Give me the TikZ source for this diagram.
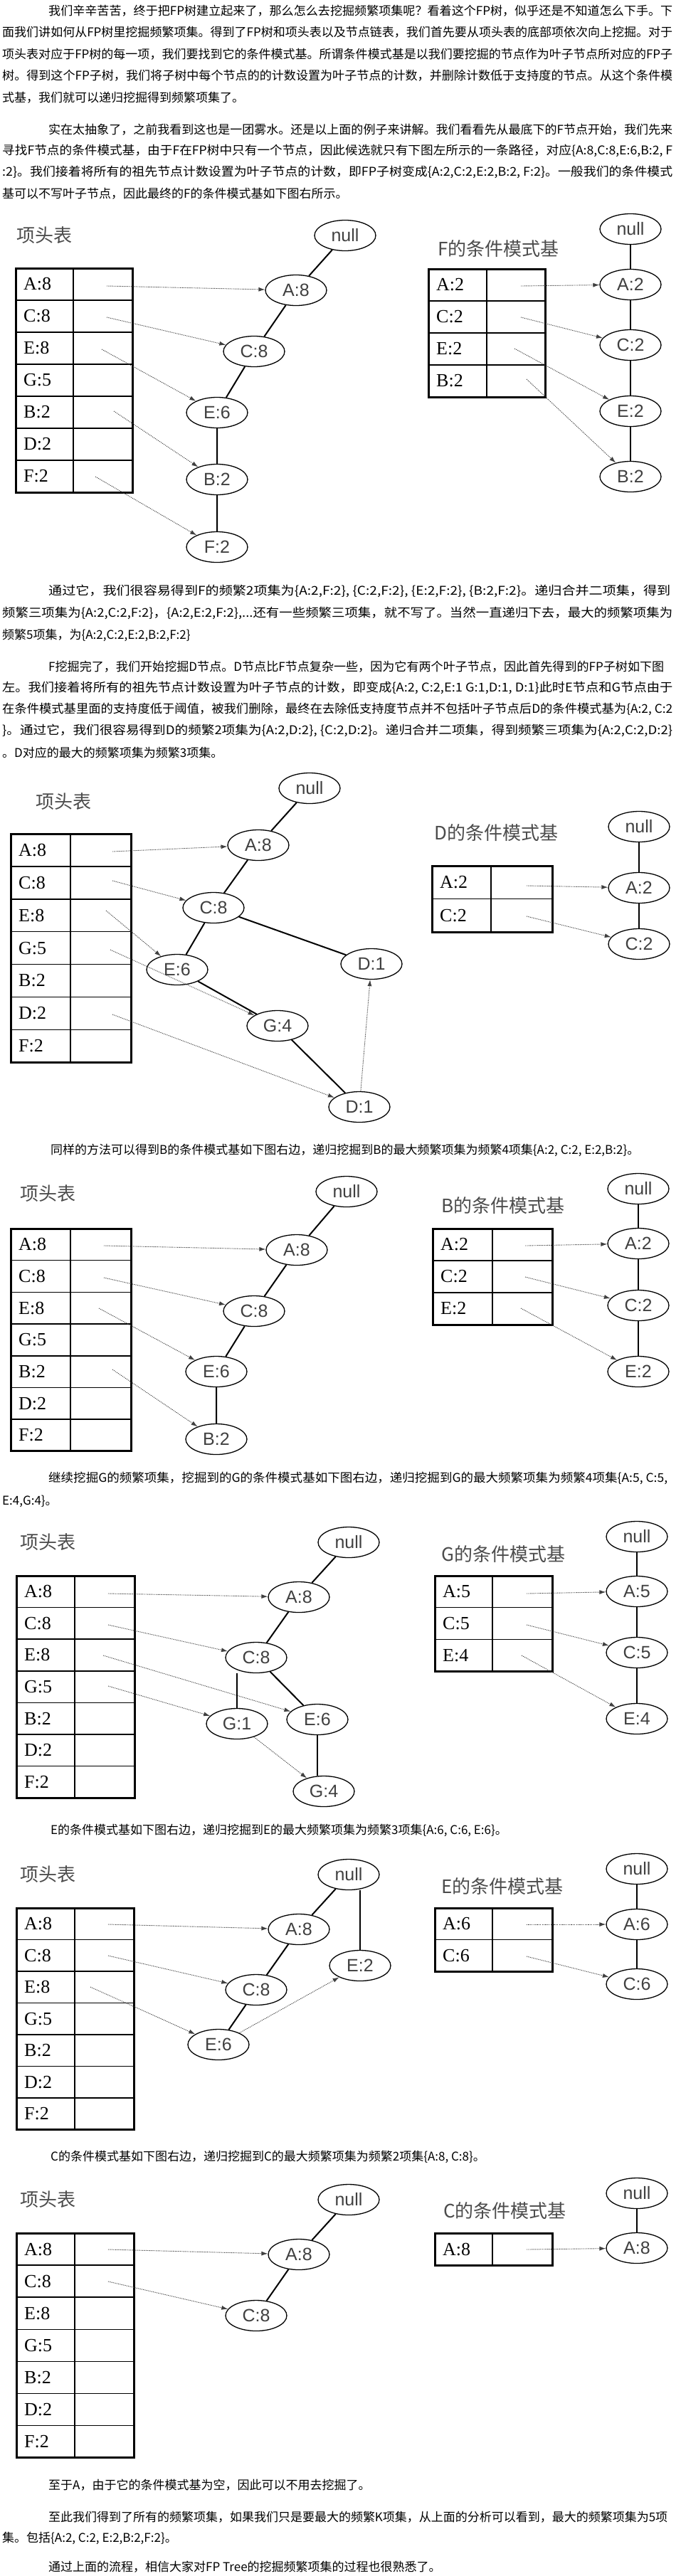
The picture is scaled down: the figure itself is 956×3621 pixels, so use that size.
\documentclass[tikz,border=0pt]{standalone}
\usepackage{graphicx}
\usepackage{fontspec}
\setmainfont{Noto Sans CJK SC}
\newfontfamily\cjkf{Noto Sans CJK SC}
\newfontfamily\arialf{Liberation Sans}
\newfontfamily\timesf{Liberation Serif}
\usetikzlibrary{shapes.geometric,arrows.meta}
\tikzset{
 body/.style={anchor=west,inner sep=0pt,font=\cjkf\fontsize{17}{21}\selectfont},
 hdr/.style={anchor=west,inner sep=0pt,text=black!70,font=\cjkf\fontsize{26}{30}\selectfont},
 rowlab/.style={anchor=west,inner sep=0pt,font=\timesf\fontsize{26}{30}\selectfont},
 tn/.style={ellipse,draw,line width=1.3pt,minimum width=86pt,minimum height=43pt,inner sep=0pt,text=black!75,font=\arialf\fontsize{25}{28}\selectfont},
 tedge/.style={line width=2pt},
 tthin/.style={line width=1.2pt},
 link/.style={line width=0.9pt,black!75,dash pattern=on 1.2pt off 1.2pt,-{Latex[length=9pt,width=6pt]}},
 tabin/.style={line width=1.5pt},
 tabout/.style={line width=3pt},
}
% prefix, x0, xdiv, x1, y0, row height, rows, labels
\newcommand\HTab[8]{%
  \foreach \lab [count=\i] in {#8} {
    \node[rowlab] (#1\i) at ({#2+11},{#5+#6*(\i-0.5)}) {\lab};
  }
  \foreach \i in {1,...,#7} {\draw[tabin] (#2,{#5+#6*\i}) -- (#4,{#5+#6*\i});}
  \draw[tabin] (#3,#5) -- (#3,{#5+#6*#7});
  \draw[tabout] (#2,#5) rectangle (#4,{#5+#6*#7});
}
\newcommand\jl[5]{\node[body] (#1) at (#2,#3) {\resizebox{#4pt}{\height}{#5}};}
\newcommand\nl[4]{\node[body] (#1) at (#2,#3) {#4};}
\begin{document}
\begin{tikzpicture}[x=1pt,y=-1pt]
\useasboundingbox[fill=white] (0,0) rectangle (956,3621);

% ---------- paragraph 1, 2
\jl{p1a}{68}{15}{877}{我们辛辛苦苦，终于把FP树建立起来了，那么怎么去挖掘频繁项集呢？看着这个FP树，似乎还是不知道怎么下手。下}
\jl{p1b}{3}{45.5}{942}{面我们讲如何从FP树里挖掘频繁项集。得到了FP树和项头表以及节点链表，我们首先要从项头表的底部项依次向上挖掘。对于}
\jl{p1c}{3}{76}{942}{项头表对应于FP树的每一项，我们要找到它的条件模式基。所谓条件模式基是以我们要挖掘的节点作为叶子节点所对应的FP子}
\jl{p1d}{3}{106.5}{942}{树。得到这个FP子树，我们将子树中每个节点的的计数设置为叶子节点的计数，并删除计数低于支持度的节点。从这个条件模}
\nl{p1e}{3}{137}{式基，我们就可以递归挖掘得到频繁项集了。}
\jl{p2a}{68}{182}{877}{实在太抽象了，之前我看到这也是一团雾水。还是以上面的例子来讲解。我们看看先从最底下的F节点开始，我们先来}
\jl{p2b}{3}{212}{942}{寻找F节点的条件模式基，由于F在FP树中只有一个节点，因此候选就只有下图左所示的一条路径，对应\{A:8,C:8,E:6,B:2, F}
\jl{p2c}{3}{242}{942}{:2\}。我们接着将所有的祖先节点计数设置为叶子节点的计数，即FP子树变成\{A:2,C:2,E:2,B:2, F:2\}。一般我们的条件模式}
\nl{p2d}{3}{272}{基可以不写叶子节点，因此最终的F的条件模式基如下图右所示。}

% ---------- diagram 1
\node[hdr] (d1h) at (23,331) {项头表};
\HTab{d1L}{22}{103}{186}{377}{45}{7}{A:8,C:8,E:8,G:5,B:2,D:2,F:2}
\node[tn] (d1n) at (485,331) {null};
\node[tn] (d1a) at (416,408) {A:8};
\node[tn] (d1c) at (357,494) {C:8};
\node[tn] (d1e) at (305,580) {E:6};
\node[tn] (d1b) at (305,674) {B:2};
\node[tn] (d1f) at (305,769) {F:2};
\draw[tedge] (d1n)--(d1a) (d1a)--(d1c) (d1c)--(d1e) (d1e)--(d1b) (d1b)--(d1f);
\coordinate (d1s1) at (150,402);
\coordinate (d1s2) at (150,446);
\coordinate (d1s3) at (143,491);
\coordinate (d1s5) at (160,578);
\coordinate (d1s7) at (134,670);
\draw[link] (d1s1)--(d1a);
\draw[link] (d1s2)--(d1c);
\draw[link] (d1s3)--(d1e);
\draw[link] (d1s5)--(d1b);
\draw[link] (d1s7)--(d1f);
\node[hdr] (d1rh) at (615,350) {F的条件模式基};
\HTab{d1R}{602}{684}{766}{378}{45}{4}{A:2,C:2,E:2,B:2}
\node[tn] (d1rn) at (886,322) {null};
\node[tn] (d1ra) at (886,400) {A:2};
\node[tn] (d1rc) at (886,485) {C:2};
\node[tn] (d1re) at (886,578) {E:2};
\node[tn] (d1rb) at (886,670) {B:2};
\draw[tedge] (d1rn)--(d1ra) (d1ra)--(d1rc) (d1rc)--(d1re) (d1re)--(d1rb);
\coordinate (d1r1) at (732,402);
\coordinate (d1r2) at (732,446);
\coordinate (d1r3) at (723,490);
\coordinate (d1r4) at (740,533);
\draw[link] (d1r1)--(d1ra);
\draw[link] (d1r2)--(d1rc);
\draw[link] (d1r3)--(d1re);
\draw[link] (d1r4)--(d1rb);

% ---------- paragraph 3, 4
\jl{p3a}{68}{831}{874}{通过它，我们很容易得到F的频繁2项集为\{A:2,F:2\}, \{C:2,F:2\}, \{E:2,F:2\}, \{B:2,F:2\}。递归合并二项集，得到}
\jl{p3b}{3}{862}{942}{频繁三项集为\{A:2,C:2,F:2\}，\{A:2,E:2,F:2\},...还有一些频繁三项集，就不写了。当然一直递归下去，最大的频繁项集为}
\nl{p3c}{3}{893}{频繁5项集，为\{A:2,C:2,E:2,B:2,F:2\}}
\jl{p4a}{68}{937}{865}{F挖掘完了，我们开始挖掘D节点。D节点比F节点复杂一些，因为它有两个叶子节点，因此首先得到的FP子树如下图}
\jl{p4b}{3}{967}{942}{左。我们接着将所有的祖先节点计数设置为叶子节点的计数，即变成\{A:2, C:2,E:1 G:1,D:1, D:1\}此时E节点和G节点由于}
\jl{p4c}{3}{997}{942}{在条件模式基里面的支持度低于阈值，被我们删除，最终在去除低支持度节点并不包括叶子节点后D的条件模式基为\{A:2, C:2}
\jl{p4d}{3}{1027}{942}{\}。通过它，我们很容易得到D的频繁2项集为\{A:2,D:2\}, \{C:2,D:2\}。递归合并二项集，得到频繁三项集为\{A:2,C:2,D:2\}}
\nl{p4e}{3}{1058}{。D对应的最大的频繁项集为频繁3项集。}

% ---------- diagram 2
\node[hdr] (d2h) at (50,1127) {项头表};
\HTab{d2L}{15}{99}{184}{1172}{45.9}{7}{A:8,C:8,E:8,G:5,B:2,D:2,F:2}
\node[tn] (d2n) at (435,1108) {null};
\node[tn] (d2a) at (363,1188) {A:8};
\node[tn] (d2c) at (300,1276) {C:8};
\node[tn] (d2e) at (249,1363) {E:6};
\node[tn] (d2du) at (522,1355) {D:1};
\node[tn] (d2g) at (390,1442) {G:4};
\node[tn] (d2dl) at (505,1556) {D:1};
\draw[tedge] (d2n)--(d2a) (d2a)--(d2c) (d2c)--(d2e) (d2c)--(d2du) (d2e)--(d2g) (d2g)--(d2dl);
\coordinate (d2s1) at (158,1197);
\coordinate (d2s2) at (158,1238);
\coordinate (d2s3) at (149,1280);
\coordinate (d2s4) at (155,1335);
\coordinate (d2s6) at (158,1426);
\draw[link] (d2s1)--(d2a);
\draw[link] (d2s2)--(d2c);
\draw[link] (d2s3)--(d2e);
\draw[link] (d2s4)--(d2g);
\draw[link] (d2s6)--(d2dl);
\draw[link] (d2dl)--(d2du);
\node[hdr] (d2rh) at (610,1171) {D的条件模式基};
\HTab{d2R}{607}{690}{776}{1217}{46.5}{2}{A:2,C:2}
\node[tn] (d2rn) at (898,1162) {null};
\node[tn] (d2ra) at (898,1248) {A:2};
\node[tn] (d2rc) at (898,1327) {C:2};
\draw[tedge] (d2rn)--(d2ra) (d2ra)--(d2rc);
\coordinate (d2r1) at (740,1245);
\coordinate (d2r2) at (740,1288);
\draw[link] (d2r1)--(d2ra);
\draw[link] (d2r2)--(d2rc);

% ---------- paragraph 5
\nl{p5}{71}{1617}{同样的方法可以得到B的条件模式基如下图右边，递归挖掘到B的最大频繁项集为频繁4项集\{A:2, C:2, E:2,B:2\}。}

% ---------- diagram 3
\node[hdr] (d3h) at (28,1678) {项头表};
\HTab{d3L}{15}{99}{184}{1727}{44.7}{7}{A:8,C:8,E:8,G:5,B:2,D:2,F:2}
\node[tn] (d3n) at (487,1675) {null};
\node[tn] (d3a) at (417,1757) {A:8};
\node[tn] (d3c) at (357,1843) {C:8};
\node[tn] (d3e) at (304,1928) {E:6};
\node[tn] (d3b) at (304,2023) {B:2};
\draw[tedge] (d3n)--(d3a) (d3a)--(d3c) (d3c)--(d3e) (d3e)--(d3b);
\coordinate (d3s1) at (146,1751);
\coordinate (d3s2) at (146,1796);
\coordinate (d3s3) at (139,1839);
\coordinate (d3s5) at (158,1925);
\draw[link] (d3s1)--(d3a);
\draw[link] (d3s2)--(d3c);
\draw[link] (d3s3)--(d3e);
\draw[link] (d3s5)--(d3b);
\node[hdr] (d3rh) at (620,1695) {B的条件模式基};
\HTab{d3R}{608}{692}{776}{1727}{45}{3}{A:2,C:2,E:2}
\node[tn] (d3rn) at (897,1671) {null};
\node[tn] (d3ra) at (897,1748) {A:2};
\node[tn] (d3rc) at (897,1835) {C:2};
\node[tn] (d3re) at (897,1928) {E:2};
\draw[tedge] (d3rn)--(d3ra) (d3ra)--(d3rc) (d3rc)--(d3re);
\coordinate (d3r1) at (738,1751);
\coordinate (d3r2) at (738,1795);
\coordinate (d3r3) at (732,1839);
\draw[link] (d3r1)--(d3ra);
\draw[link] (d3r2)--(d3rc);
\draw[link] (d3r3)--(d3re);

% ---------- paragraph 6
\jl{p6a}{68}{2078}{870}{继续挖掘G的频繁项集，挖掘到的G的条件模式基如下图右边，递归挖掘到G的最大频繁项集为频繁4项集\{A:5, C:5,}
\nl{p6b}{3}{2110}{E:4,G:4\}。}

% ---------- diagram 4
\node[hdr] (d4h) at (28,2168) {项头表};
\HTab{d4L}{23}{105}{189}{2215}{44.6}{7}{A:8,C:8,E:8,G:5,B:2,D:2,F:2}
\node[tn] (d4n) at (490,2168) {null};
\node[tn] (d4a) at (420,2245) {A:8};
\node[tn] (d4c) at (360,2330) {C:8};
\node[tn] (d4g1) at (333,2423) {G:1};
\node[tn] (d4e) at (446,2417) {E:6};
\node[tn] (d4g4) at (455,2518) {G:4};
\draw[tedge] (d4n)--(d4a) (d4a)--(d4c) (d4c)--(d4e);
\draw[tthin] (d4g1.north) -- (d4g1.north |- d4c.south);
\draw[tthin] (d4e.south) -- (d4e.south |- d4g4.north);
\coordinate (d4s1) at (152,2240);
\coordinate (d4s2) at (152,2284);
\coordinate (d4s3) at (145,2327);
\coordinate (d4s4) at (152,2370);
\draw[link] (d4s1)--(d4a);
\draw[link] (d4s2)--(d4c);
\draw[link] (d4s3)--(d4e);
\draw[link] (d4s4)--(d4g1);
\draw[link] (d4g1)--(d4g4);
\node[hdr] (d4rh) at (620,2185) {G的条件模式基};
\HTab{d4R}{611}{692}{776}{2215}{44.7}{3}{A:5,C:5,E:4}
\node[tn] (d4rn) at (895,2160) {null};
\node[tn] (d4ra) at (895,2237) {A:5};
\node[tn] (d4rc) at (895,2323) {C:5};
\node[tn] (d4re) at (895,2416) {E:4};
\draw[tedge] (d4rn)--(d4ra) (d4ra)--(d4rc) (d4rc)--(d4re);
\coordinate (d4r1) at (740,2240);
\coordinate (d4r2) at (740,2284);
\coordinate (d4r3) at (733,2327);
\draw[link] (d4r1)--(d4ra);
\draw[link] (d4r2)--(d4rc);
\draw[link] (d4r3)--(d4re);

% ---------- paragraph 7
\nl{p7}{71}{2573}{E的条件模式基如下图右边，递归挖掘到E的最大频繁项集为频繁3项集\{A:6, C:6, E:6\}。}

% ---------- diagram 5
\node[hdr] (d5h) at (28,2635) {项头表};
\HTab{d5L}{23}{105}{188}{2682}{44.5}{7}{A:8,C:8,E:8,G:5,B:2,D:2,F:2}
\node[tn] (d5n) at (490,2635) {null};
\node[tn] (d5a) at (420,2712) {A:8};
\node[tn] (d5c) at (360,2797) {C:8};
\node[tn] (d5e6) at (307,2874) {E:6};
\node[tn] (d5e2) at (506,2763) {E:2};
\draw[tedge] (d5n)--(d5a) (d5a)--(d5c) (d5c)--(d5e6);
\draw[tthin] (d5e2.north) -- (d5e2.north |- d5n.south);
\coordinate (d5s1) at (152,2705);
\coordinate (d5s2) at (152,2749);
\coordinate (d5s3) at (127,2793);
\draw[link] (d5s1)--(d5a);
\draw[link] (d5s2)--(d5c);
\draw[link] (d5s3)--(d5e6);
\draw[link] (d5e6)--(d5e2);
\node[hdr] (d5rh) at (620,2652) {E的条件模式基};
\HTab{d5R}{611}{692}{776}{2682}{44.5}{2}{A:6,C:6}
\node[tn] (d5rn) at (895,2627) {null};
\node[tn] (d5ra) at (895,2705) {A:6};
\node[tn] (d5rc) at (895,2789) {C:6};
\draw[tedge] (d5rn)--(d5ra) (d5ra)--(d5rc);
\coordinate (d5r1) at (740,2705);
\coordinate (d5r2) at (740,2750);
\draw[link] (d5r1)--(d5ra);
\draw[link] (d5r2)--(d5rc);

% ---------- paragraph 8
\nl{p8}{71}{3032}{C的条件模式基如下图右边，递归挖掘到C的最大频繁项集为频繁2项集\{A:8, C:8\}。}

% ---------- diagram 6
\node[hdr] (d6h) at (28,3092) {项头表};
\HTab{d6L}{23}{105}{188}{3139}{45.1}{7}{A:8,C:8,E:8,G:5,B:2,D:2,F:2}
\node[tn] (d6n) at (490,3092) {null};
\node[tn] (d6a) at (420,3169) {A:8};
\node[tn] (d6c) at (360,3255) {C:8};
\draw[tedge] (d6n)--(d6a) (d6a)--(d6c);
\coordinate (d6s1) at (152,3162);
\coordinate (d6s2) at (152,3207);
\draw[link] (d6s1)--(d6a);
\draw[link] (d6s2)--(d6c);
\node[hdr] (d6rh) at (623,3108) {C的条件模式基};
\HTab{d6R}{611}{692}{776}{3139}{45}{1}{A:8}
\node[tn] (d6rn) at (895,3083) {null};
\node[tn] (d6ra) at (895,3160) {A:8};
\draw[tedge] (d6rn)--(d6ra);
\coordinate (d6r1) at (740,3162);
\draw[link] (d6r1)--(d6ra);

% ---------- closing paragraphs
\nl{p9}{68}{3493}{至于A，由于它的条件模式基为空，因此可以不用去挖掘了。}
\jl{p10a}{68}{3538}{870}{至此我们得到了所有的频繁项集，如果我们只是要最大的频繁K项集，从上面的分析可以看到，最大的频繁项集为5项}
\nl{p10b}{3}{3568}{集。包括\{A:2, C:2, E:2,B:2,F:2\}。}
\nl{p11}{68}{3608}{通过上面的流程，相信大家对FP Tree的挖掘频繁项集的过程也很熟悉了。}
\end{tikzpicture}
\end{document}
